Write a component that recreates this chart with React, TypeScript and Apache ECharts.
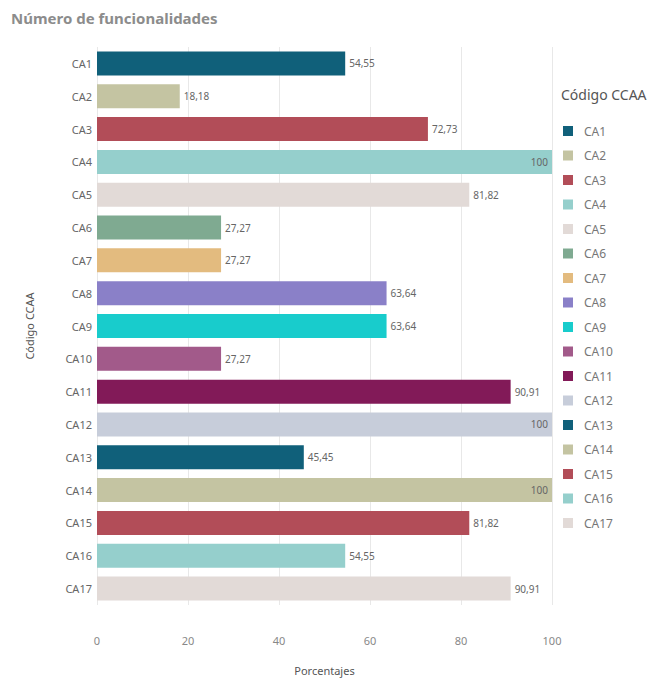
import React, { useEffect, useRef } from "react";
import * as echarts from "echarts";

const categories = ["CA1","CA2","CA3","CA4","CA5","CA6","CA7","CA8","CA9","CA10","CA11","CA12","CA13","CA14","CA15","CA16","CA17"];
const values = [54.55, 18.18, 72.73, 100, 81.82, 27.27, 27.27, 63.64, 63.64, 27.27, 90.91, 100, 45.45, 100, 81.82, 54.55, 90.91];
const colors = ["#10607a","#c4c4a2","#b24d58","#95cfcc","#e2dad7","#7faa91","#e3bb7f","#8a80c8","#18cccc","#a25a8a","#821a58","#c7cdda","#10607a","#c4c4a2","#b24d58","#95cfcc","#e2dad7"];
const xTicks = [0, 20, 40, 60, 80, 100];

const fmt = (v: number) => (Number.isInteger(v) ? String(v) : v.toFixed(2).replace(".", ","));

export default function App() {
  const ref = useRef<HTMLDivElement>(null);
  useEffect(() => {
    if (!ref.current) return;
    const chart = echarts.init(ref.current, null, { renderer: "svg" });
    const font = "'Noto Sans', sans-serif";
    const series = categories.map((c, i) => ({
      name: c,
      type: "bar",
      stack: "total",
      barWidth: 24,
      itemStyle: { color: colors[i] },
      label: {
        show: true,
        position: values[i] >= 100 ? "insideRight" : "right",
        distance: 4,
        color: "#666",
        fontSize: 10,
        fontFamily: font,
        formatter: (p: any) => fmt(p.value),
      },
      data: categories.map((_, j) => (j === i ? values[i] : "-")),
    }));
    chart.setOption({
      animation: false,
      textStyle: { fontFamily: font },
      title: {
        text: "Número de funcionalidades",
        left: 6,
        top: 5,
        textStyle: { fontSize: 15, fontWeight: "bold", color: "#8c8c8c", fontFamily: font },
      },
      graphic: [
        {
          type: "text",
          left: 561,
          top: 87,
          style: { text: "Código CCAA", fontSize: 14, fill: "#555", fontFamily: font },
        },
      ],
      legend: {
        orient: "vertical",
        left: 558,
        top: 119,
        icon: "rect",
        itemWidth: 10,
        itemHeight: 10,
        itemGap: 10.5,
        data: categories,
        textStyle: { color: "#777", fontSize: 12, lineHeight: 14, fontFamily: font, padding: [0, 0, 0, 6] },
      },
      grid: { left: 97, right: 113, top: 47, bottom: 68 },
      xAxis: {
        type: "value",
        min: 0,
        max: 100,
        interval: 20,
        name: "Porcentajes",
        nameLocation: "middle",
        nameGap: 60,
        nameTextStyle: { color: "#555", fontSize: 11, fontFamily: font },
        axisLine: { show: false },
        axisTick: { show: false },
        axisLabel: {
          color: "#888",
          fontSize: 11,
          margin: 30,
          formatter: (v: number) => (xTicks.includes(v) ? String(v) : ""),
        },
        splitLine: { show: true, lineStyle: { color: "#e8e8e8" } },
      },
      yAxis: {
        type: "category",
        inverse: true,
        data: categories,
        name: "Código CCAA",
        nameLocation: "middle",
        nameGap: 62,
        nameRotate: 90,
        nameTextStyle: { color: "#555", fontSize: 11, fontFamily: font },
        axisLine: { show: false },
        axisTick: { show: false },
        axisLabel: { color: "#666", fontSize: 11, margin: 5 },
        splitLine: { show: false },
      },
      series,
    });
    return () => chart.dispose();
  }, []);
  return <div ref={ref} style={{ width: 665, height: 681, position: "absolute", left: 0, top: 0, background: "#fff" }} />;
}
